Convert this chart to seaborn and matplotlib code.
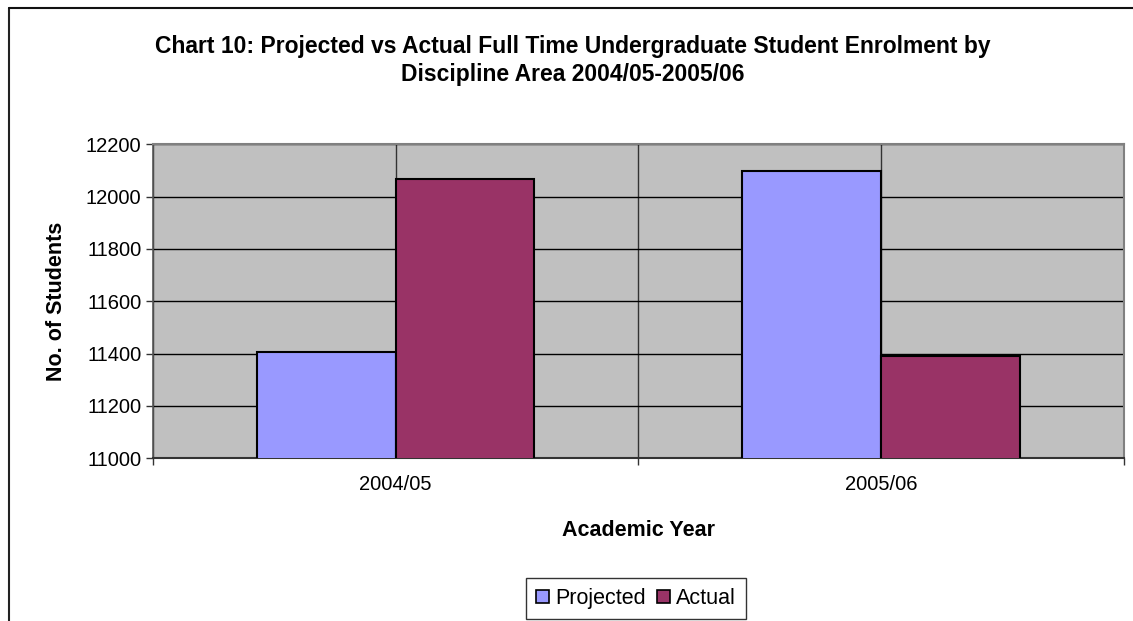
import matplotlib
matplotlib.use("Agg")
import matplotlib.pyplot as plt
import seaborn as sns
import pandas as pd
from matplotlib.lines import Line2D
from matplotlib.patches import Patch

years = ["2004/05", "2005/06"]
series = ["Projected", "Actual"]
projected = [11406, 12098]
actual = [12067, 11390]
colors = ["#9999FF", "#993366"]
yticks = [11000, 11200, 11400, 11600, 11800, 12000, 12200]

df = pd.DataFrame({
    "year": years * 2,
    "series": [series[0]] * 2 + [series[1]] * 2,
    "value": projected + actual,
})

sns.set_style("white")
plt.rcParams["font.family"] = ["Liberation Sans", "DejaVu Sans"]
plt.rcParams["text.color"] = "black"
plt.rcParams["axes.labelcolor"] = "black"
plt.rcParams["xtick.labelcolor"] = "black"
plt.rcParams["ytick.labelcolor"] = "black"

fig = plt.figure(figsize=(11.33, 6.21), dpi=100)
ax = fig.add_axes([0.1348, 0.262, 0.9921 - 0.1348, 0.7676 - 0.262])

sns.barplot(data=df, x="year", y="value", hue="series", order=years,
            hue_order=series, palette=colors, width=4 / 7, gap=0,
            edgecolor="black", linewidth=1.5, ax=ax, legend=False,
            saturation=1, zorder=3)

ax.set_facecolor("#C0C0C0")
ax.set_ylim(11000, 12200)
ax.set_xlim(-0.5, 1.5)
ax.set_yticks(yticks)
ax.set_yticklabels([str(t) for t in yticks], fontsize=14.5)
ax.tick_params(axis="y", direction="out", length=5, width=1, color="#333333",
               labelcolor="black", pad=3, left=True)

ax.set_xticks([0, 1])
ax.set_xticklabels(years, fontsize=14.5)
ax.set_xticks([-0.5, 0.5, 1.5], minor=True)
ax.tick_params(axis="x", which="major", length=0, pad=12, labelcolor="black")
ax.tick_params(axis="x", which="minor", direction="out", length=5, width=1, color="#333333", bottom=True)

ax.grid(axis="y", color="black", linewidth=1, zorder=1)
ax.grid(axis="x", which="both", color="#333333", linewidth=1, zorder=1)
ax.set_axisbelow(True)

for side in ["top", "right"]:
    ax.spines[side].set_color("#808080")
    ax.spines[side].set_linewidth(1.5)
ax.spines["left"].set_color("#555555")
ax.spines["left"].set_linewidth(1.2)
ax.spines["bottom"].set_color("#333333")
ax.spines["bottom"].set_linewidth(1.5)

ax.set_xlabel("Academic Year", fontsize=15.5, fontweight="bold", labelpad=19, color="black")
ax.set_ylabel("No. of Students", fontsize=15.5, fontweight="bold", labelpad=14, color="black")

fig.text(572.5 / 1133, 1 - 46 / 621,
         "Chart 10: Projected vs Actual Full Time Undergraduate Student Enrolment by",
         ha="center", va="center", fontsize=16.5, fontweight="bold", color="black")
fig.text(572.5 / 1133, 1 - 74 / 621, "Discipline Area 2004/05-2005/06",
         ha="center", va="center", fontsize=16.5, fontweight="bold", color="black")

handles = [Patch(facecolor=c, edgecolor="black", linewidth=1.2) for c in colors]
leg = fig.legend(handles, series, loc="center", bbox_to_anchor=(636 / 1133, 22.5 / 621),
                 ncol=2, fontsize=15.5, frameon=True, fancybox=False,
                 handlelength=0.6, handleheight=0.6, handletextpad=0.3,
                 columnspacing=0.5, borderpad=0.45, borderaxespad=0)
leg.get_frame().set_edgecolor("black")
leg.get_frame().set_linewidth(1)
for t in leg.get_texts():
    t.set_color("black")

fig.add_artist(Line2D([8.5 / 1133, 8.5 / 1133], [0, 1 - 8 / 621], transform=fig.transFigure,
                      color="#222222", linewidth=1.5))
fig.add_artist(Line2D([8.5 / 1133, 1], [1 - 8 / 621, 1 - 8 / 621], transform=fig.transFigure,
                      color="#111111", linewidth=1.5))

fig.savefig("out.png", dpi=100)
